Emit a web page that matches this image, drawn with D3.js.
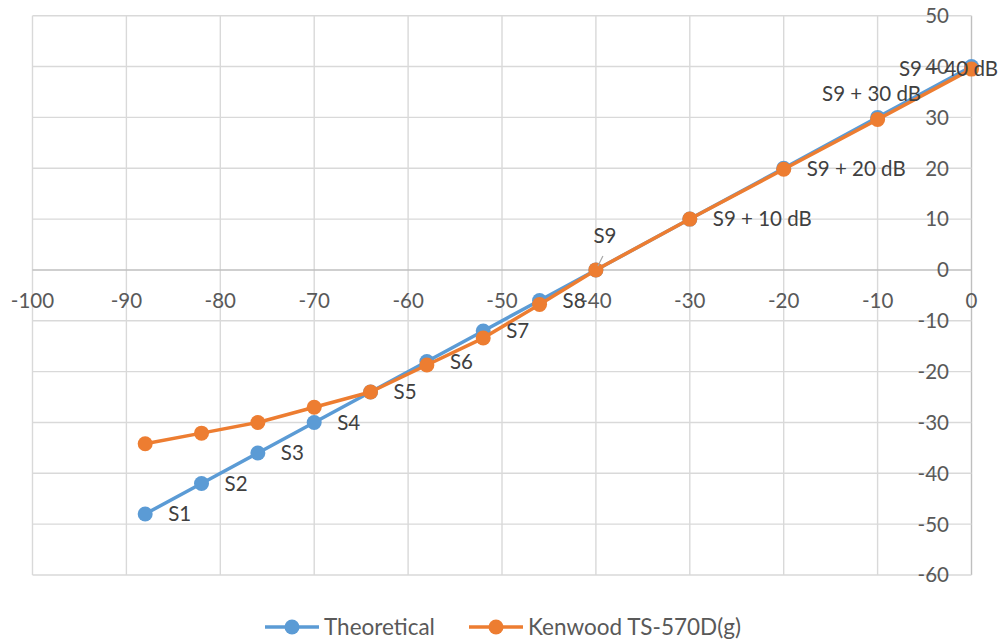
<!DOCTYPE html>
<html><head><meta charset="utf-8">
<script src="https://cdn.jsdelivr.net/npm/d3@7"></script>
<style>
html,body{margin:0;padding:0;background:#fff;}
svg text{font-family:Lato,"Open Sans",sans-serif;}
</style></head>
<body><svg id="c" width="1003" height="643"></svg>
<script>
// ---- data ----
const inputDbm = [-88,-82,-76,-70,-64,-58,-52,-46,-40,-30,-20,-10,0];
const theoretical = [-48,-42,-36,-30,-24,-18,-12,-6,0,10,20,30,40];
const kenwood = [-34.2,-32.1,-30.0,-27.0,-24.0,-18.7,-13.4,-6.8,0,10,19.8,29.6,39.5];
const pointLabels = ["S1","S2","S3","S4","S5","S6","S7","S8","S9","S9 + 10 dB","S9 + 20 dB","S9 + 30 dB","S9 + 40 dB"];
const labelPlacement = ["right","right","right","right","right","right","right","right","above-leader","right","right","above","overlap"];
const xTicks = [-100,-90,-80,-70,-60,-50,-40,-30,-20,-10,0];
const yTicks = [50,40,30,20,10,0,-10,-20,-30,-40,-50,-60];
const seriesNames = ["Theoretical","Kenwood TS-570D(g)"];
const seriesColors = ["#5b9bd5","#ed7d31"];

// ---- layout ----
const svg = d3.select("#c");
const L = 32.5, R = 971.5, T = 15.7, B = 575;
const x = d3.scaleLinear().domain([-100,0]).range([L,R]);
const y = d3.scaleLinear().domain([-60,50]).range([B,T]);
const FS = 20.5, LFS = 22.5;

// gridlines
const g = svg.append("g");
g.selectAll("line.vg").data(xTicks).join("line")
  .attr("x1",d=>x(d)).attr("x2",d=>x(d)).attr("y1",T).attr("y2",B)
  .attr("stroke",d=>d===0?"#bfbfbf":"#d9d9d9").attr("stroke-width",1.4);
g.selectAll("line.hg").data(yTicks).join("line")
  .attr("x1",L).attr("x2",R).attr("y1",d=>y(d)).attr("y2",d=>y(d))
  .attr("stroke",d=>d===0?"#bfbfbf":"#d9d9d9").attr("stroke-width",1.4);

// axis tick labels
const y0 = y(0);
svg.append("g").selectAll("text").data(xTicks).join("text")
  .attr("x",d=>x(d)).attr("y",y0+38).attr("text-anchor","middle")
  .attr("fill","#595959").attr("font-size",FS).text(d=>d);
svg.append("g").selectAll("text").data(yTicks).join("text")
  .attr("x",949).attr("y",d=>y(d)).attr("dy","0.36em").attr("text-anchor","end")
  .attr("fill","#595959").attr("font-size",FS).text(d=>d);

// series
const pts = s => inputDbm.map((v,i)=>[v,s[i]]);
const line = d3.line().x(d=>x(d[0])).y(d=>y(d[1]));
[theoretical,kenwood].forEach((s,k)=>{
  svg.append("path").datum(pts(s)).attr("d",line).attr("fill","none")
    .attr("stroke",seriesColors[k]).attr("stroke-width",3.5).attr("stroke-linejoin","round");
  svg.append("g").selectAll("circle").data(pts(s)).join("circle")
    .attr("cx",d=>x(d[0])).attr("cy",d=>y(d[1])).attr("r",7.5).attr("fill",seriesColors[k]);
});

// data labels (theoretical series)
const lg = svg.append("g");
inputDbm.forEach((v,i)=>{
  const px = x(v), py = y(theoretical[i]);
  const p = labelPlacement[i];
  let tx, ty, anchor="start";
  if(p==="right"){ tx=px+23; ty=py; }
  else if(p==="above-leader"){ tx=px+9; ty=py-34; anchor="middle";
    lg.append("line").attr("x1",px+2).attr("y1",py-4).attr("x2",px+7).attr("y2",py-14)
      .attr("stroke","#a6a6a6").attr("stroke-width",1.2);
  }
  else if(p==="above"){ tx=px-6; ty=py-24; anchor="middle"; }
  else { tx=px-23; ty=py+2; anchor="middle"; }
  lg.append("text").attr("x",tx).attr("y",ty).attr("dy","0.36em").attr("text-anchor",anchor)
    .attr("fill","#404040").attr("font-size",FS).text(pointLabels[i]);
});

// legend
const legY = 627;
const legX = [265,469];
seriesNames.forEach((n,k)=>{
  const lx = legX[k];
  svg.append("line").attr("x1",lx).attr("x2",lx+54).attr("y1",legY).attr("y2",legY)
    .attr("stroke",seriesColors[k]).attr("stroke-width",3.5);
  svg.append("circle").attr("cx",lx+27).attr("cy",legY).attr("r",7.5).attr("fill",seriesColors[k]);
  svg.append("text").attr("x",lx+59).attr("y",legY).attr("dy","0.36em")
    .attr("fill","#595959").attr("font-size",LFS).text(n);
});
</script></body></html>
